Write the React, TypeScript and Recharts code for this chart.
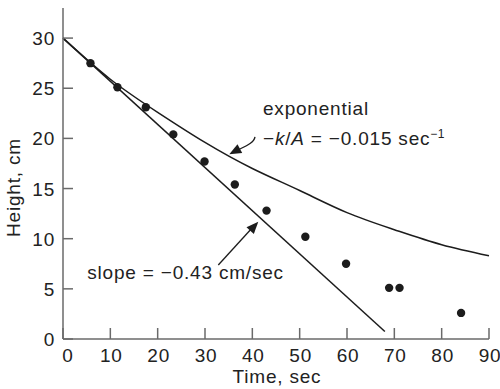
import React from 'react';
import {
  ComposedChart,
  Line,
  Scatter,
  XAxis,
  YAxis,
  ReferenceLine,
} from 'recharts';

// measured drain points
const timeSec = [5.8, 11.5, 17.5, 23.3, 29.9, 36.3, 43.0, 51.2, 59.8, 68.9, 71.1, 84.1];
const heightCm = [27.5, 25.1, 23.1, 20.4, 17.7, 15.4, 12.8, 10.2, 7.5, 5.1, 5.1, 2.6];

// exponential curve
const expTime = [0, 10, 20, 30, 40, 50, 60, 70, 80, 90];
const expHeight = [30, 25.9, 22.6, 19.6, 17.0, 14.8, 12.6, 10.9, 9.4, 8.3];

// straight line fit
const lineTime = [0, 68];
const lineHeight = [30, 0.75];

const xTicks = [0, 10, 20, 30, 40, 50, 60, 70, 80, 90];
const yTicks = [0, 5, 10, 15, 20, 25, 30];

const points = timeSec.map((x, i) => ({ x, y: heightCm[i] }));
const expData = expTime.map((x, i) => ({ x, y: expHeight[i] }));
const lineData = lineTime.map((x, i) => ({ x, y: lineHeight[i] }));

const FONT = '"Liberation Sans", Arial, Helvetica, sans-serif';
const INK = '#1c1c1c';
const AXIS = '#6a6a6a';
const textStyle = { fontFamily: FONT, fontSize: 19, letterSpacing: 0.8, fill: '#222' };

const YTick = (props: any) => {
  const { x, y, payload } = props;
  return (
    <g>
      <line x1={x} x2={x + 10} y1={y} y2={y} stroke={AXIS} strokeWidth={1.5} />
      <text x={x - 8} y={y + 7} textAnchor="end" style={textStyle}>
        {payload.value}
      </text>
    </g>
  );
};

const XTick = (props: any) => {
  const { x, y, payload } = props;
  const shift = payload.value === 0 ? 4 : 0;
  return (
    <g>
      <line x1={x} x2={x} y1={y} y2={y - 11} stroke={AXIS} strokeWidth={1.5} />
      <text x={x + shift + 1} y={y + 23} textAnchor="middle" style={textStyle}>
        {payload.value}
      </text>
    </g>
  );
};

const XTitle = (props: any) => {
  const { x, y, width } = props.viewBox;
  return (
    <text x={x + width / 2 + 1} y={y + 44} textAnchor="middle" style={textStyle}>
      Time, sec
    </text>
  );
};

const YTitle = (props: any) => {
  const { x, y, height } = props.viewBox;
  const cx = x + 12;
  const cy = y + height / 2 + 14;
  return (
    <text x={cx} y={cy} textAnchor="middle" transform={`rotate(-90, ${cx}, ${cy})`} style={textStyle}>
      Height, cm
    </text>
  );
};

const arrowHead = (fx: number, fy: number, tx: number, ty: number) => {
  const dx = tx - fx;
  const dy = ty - fy;
  const len = Math.sqrt(dx * dx + dy * dy) || 1;
  const ux = dx / len;
  const uy = dy / len;
  const L = 12;
  const W = 5;
  const bx = tx - ux * L;
  const by = ty - uy * L;
  return `${tx},${ty} ${bx - uy * W},${by + ux * W} ${bx + uy * W},${by - ux * W}`;
};

// curved arrow + label for the exponential curve
const ExpArrow = (props: any) => {
  const { x1, y1, x2, y2 } = props;
  const c1x = x1 - 1, c1y = y1 + 7;
  const c2x = x2 + 13, c2y = y2 - 7;
  return (
    <g>
      <path d={`M${x1},${y1} C${c1x},${c1y} ${c2x},${c2y} ${x2 + 6},${y2 - 3}`} fill="none" stroke={INK} strokeWidth={1.3} />
      <polygon points={arrowHead(c2x, c2y, x2, y2)} fill={INK} />
      <text x={x1 + 8} y={y1 - 22} style={textStyle}>exponential</text>
      <text x={x1 + 8} y={y1 + 8} style={textStyle}>
        −<tspan fontStyle="italic">k</tspan>/<tspan fontStyle="italic">A</tspan> = −0.015 sec
        <tspan dy={-7} fontSize={12} letterSpacing={0.5}>−1</tspan>
      </text>
    </g>
  );
};

// straight arrow + label for the slope line
const SlopeArrow = (props: any) => {
  const { x1, y1, x2, y2 } = props;
  return (
    <g>
      <line x1={x1} y1={y1} x2={x2 - 6} y2={y2 + 6} stroke={INK} strokeWidth={1.3} />
      <polygon points={arrowHead(x1, y1, x2, y2)} fill={INK} />
      <text x={x1 - 131} y={y1 + 14} style={textStyle}>slope = −0.43 cm/sec</text>
    </g>
  );
};

const DataDot = (props: any) => {
  const { cx, cy } = props;
  return <circle cx={cx} cy={cy} r={4.2} fill={INK} />;
};

export default function App() {
  return (
    <div style={{ position: 'absolute', left: 0, top: 0, width: 500, height: 389, background: '#fff' }}>
      <ComposedChart width={500} height={389} margin={{ top: 8, right: 11, bottom: 0, left: 8 }}>
        <XAxis
          type="number"
          dataKey="x"
          domain={[0, 90]}
          ticks={xTicks}
          height={50}
          tickSize={0}
          tickMargin={0}
          tickLine={false}
          tick={<XTick />}
          axisLine={{ stroke: AXIS, strokeWidth: 1.5 }}
          label={<XTitle />}
        />
        <YAxis
          type="number"
          domain={[0, 33]}
          ticks={yTicks}
          width={55}
          tickSize={0}
          tickMargin={0}
          tickLine={false}
          tick={<YTick />}
          axisLine={{ stroke: AXIS, strokeWidth: 1.5 }}
          label={<YTitle />}
        />
        <Line
          data={expData}
          dataKey="y"
          type="natural"
          stroke={INK}
          strokeWidth={1.5}
          dot={false}
          activeDot={false}
          isAnimationActive={false}
        />
        <Line
          data={lineData}
          dataKey="y"
          type="linear"
          stroke={INK}
          strokeWidth={1.5}
          dot={false}
          activeDot={false}
          isAnimationActive={false}
        />
        <Scatter data={points} dataKey="y" fill={INK} shape={<DataDot />} isAnimationActive={false} />
        <ReferenceLine
          segment={[{ x: 40.56, y: 20.16 }, { x: 35.13, y: 18.41 }]}
          shape={<ExpArrow />}
          ifOverflow="visible"
        />
        <ReferenceLine
          segment={[{ x: 32.81, y: 7.38 }, { x: 41.26, y: 11.69 }]}
          shape={<SlopeArrow />}
          ifOverflow="visible"
        />
      </ComposedChart>
    </div>
  );
}
